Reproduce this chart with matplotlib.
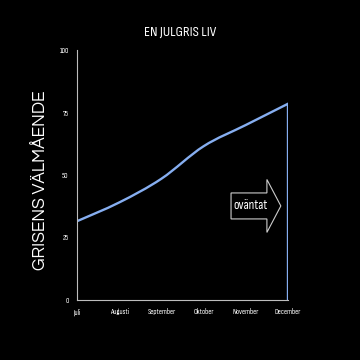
import matplotlib
matplotlib.use("Agg")
import matplotlib.pyplot as plt
from matplotlib.patches import FancyArrow, PathPatch
from matplotlib.path import Path
import numpy as np

months = ["Juli", "Augusti", "September", "Oktober", "November", "December"]
values = [31.5, 39, 48.5, 61.5, 70, 78.5]
drop_value = 0
yticks = [0, 25, 50, 75, 100]
title = "EN JULGRIS LIV"
ylabel = "GRISENS VÄLMÅENDE"
note = "oväntat"

narrow = ["Sofia Sans Condensed", "Liberation Sans Narrow", "DejaVu Sans"]
wide = ["Questrial", "Didact Gothic", "Montserrat", "DejaVu Sans"]
line_color = "#86aef0"
axis_color = "#bdbdbd"

fig = plt.figure(figsize=(3.6, 3.6), dpi=100, facecolor="black")
ax = fig.add_axes([0.214, 0.167, 0.586, 0.694])
ax.set_facecolor("black")

x = np.arange(len(months), dtype=float)
y = np.array(values, dtype=float)

# smooth rendering through the data points (Catmull-Rom as cubic Bezier)
verts = [(x[0], y[0])]
codes = [Path.MOVETO]
n = len(x)
for i in range(n - 1):
    p0 = np.array([x[max(i - 1, 0)], y[max(i - 1, 0)]])
    p1 = np.array([x[i], y[i]])
    p2 = np.array([x[i + 1], y[i + 1]])
    p3 = np.array([x[min(i + 2, n - 1)], y[min(i + 2, n - 1)]])
    c1 = p1 + (p2 - p0) / 6.0
    c2 = p2 - (p3 - p1) / 6.0
    verts += [tuple(c1), tuple(c2), tuple(p2)]
    codes += [Path.CURVE4] * 3
verts.append((x[-1], drop_value))
codes.append(Path.LINETO)
ax.add_patch(PathPatch(Path(verts, codes), fill=False, ec=line_color, lw=1.7,
                       capstyle="round", joinstyle="miter"))

ax.set_xlim(0, len(months) - 1)
ax.set_ylim(0, 100)
ax.set_xticks(x)
ax.set_xticklabels(months, fontfamily=narrow, fontsize=5.5, color="white")
ax.set_yticks(yticks)
ax.set_yticklabels([str(t) for t in yticks], fontfamily=narrow, fontsize=5.5, color="white")
ax.tick_params(length=0, pad=6)
for s in ["top", "right"]:
    ax.spines[s].set_visible(False)
for s in ["left", "bottom"]:
    ax.spines[s].set_color(axis_color)
    ax.spines[s].set_linewidth(0.8)

fig.text(0.5, 0.91, title, ha="center", va="center", color="white",
         fontfamily=narrow, fontsize=10.5)
fig.text(0.113, 0.5, ylabel, ha="center", va="center", rotation=90, color="white",
         fontfamily=wide, fontsize=12.5)

arr = FancyArrow(3.65, 37.6, 1.18, 0, width=10.4, head_width=21.2, head_length=0.33,
                 length_includes_head=True, fc="black", ec="#cccccc", lw=0.8, clip_on=False)
ax.add_patch(arr)
ax.text(4.1, 37.6, note, ha="center", va="center", color="white",
        fontfamily=narrow, fontsize=9.5)

fig.savefig("out.png", dpi=100, facecolor="black")
